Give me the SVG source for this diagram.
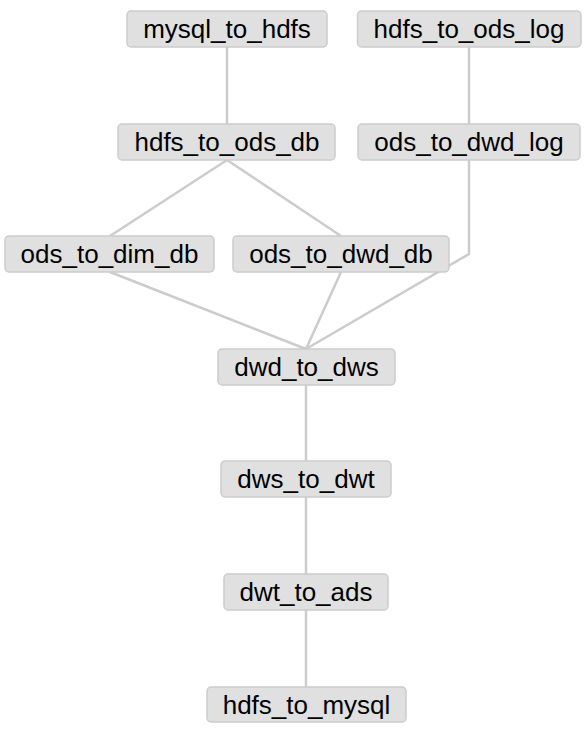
<svg xmlns="http://www.w3.org/2000/svg" width="586" height="731" viewBox="0 0 586 731">
<style>
.n rect{fill:#e0e0e0;stroke:#cccccc;stroke-width:1.5}
.n text{font-family:"Liberation Sans",Arial,sans-serif;font-size:26px;fill:#000;text-anchor:middle}
.e{fill:none;stroke:#cccccc;stroke-width:2.5}
</style>
<rect width="586" height="731" fill="#fff"/>
<g id="edges" class="e">
<line x1="227" y1="47" x2="227" y2="124"/>
<line x1="469" y1="47" x2="469" y2="124"/>
<line x1="227" y1="160" x2="110" y2="236"/>
<line x1="227" y1="160" x2="341" y2="236"/>
<line x1="110" y1="272" x2="306" y2="349"/>
<line x1="341" y1="272" x2="306" y2="349"/>
<polyline points="469,160 469,254 306,349"/>
<line x1="306" y1="385" x2="306" y2="461"/>
<line x1="306" y1="497" x2="306" y2="574"/>
<line x1="306" y1="610" x2="306" y2="687"/>
</g>
<g id="mysql_to_hdfs" class="n"><rect x="127" y="11" width="200" height="36" rx="4"/><text x="227" y="38">mysql_to_hdfs</text></g>
<g id="hdfs_to_ods_log" class="n"><rect x="357.5" y="11" width="223.5" height="36" rx="4"/><text x="469" y="38">hdfs_to_ods_log</text></g>
<g id="hdfs_to_ods_db" class="n"><rect x="118" y="124" width="217" height="36" rx="4"/><text x="227" y="151">hdfs_to_ods_db</text></g>
<g id="ods_to_dwd_log" class="n"><rect x="358" y="124" width="222" height="36" rx="4"/><text x="469" y="151">ods_to_dwd_log</text></g>
<g id="ods_to_dim_db" class="n"><rect x="5" y="236" width="209" height="36" rx="4"/><text x="109.5" y="263">ods_to_dim_db</text></g>
<g id="ods_to_dwd_db" class="n"><rect x="233" y="236" width="216" height="36" rx="4"/><text x="341" y="263">ods_to_dwd_db</text></g>
<g id="dwd_to_dws" class="n"><rect x="218" y="349" width="177" height="36" rx="4"/><text x="306.5" y="376">dwd_to_dws</text></g>
<g id="dws_to_dwt" class="n"><rect x="221" y="461" width="170" height="36" rx="4"/><text x="306" y="488">dws_to_dwt</text></g>
<g id="dwt_to_ads" class="n"><rect x="224" y="574" width="164" height="36" rx="4"/><text x="306" y="601">dwt_to_ads</text></g>
<g id="hdfs_to_mysql" class="n"><rect x="207" y="687" width="199" height="35" rx="4"/><text x="306.5" y="714">hdfs_to_mysql</text></g>
</svg>
